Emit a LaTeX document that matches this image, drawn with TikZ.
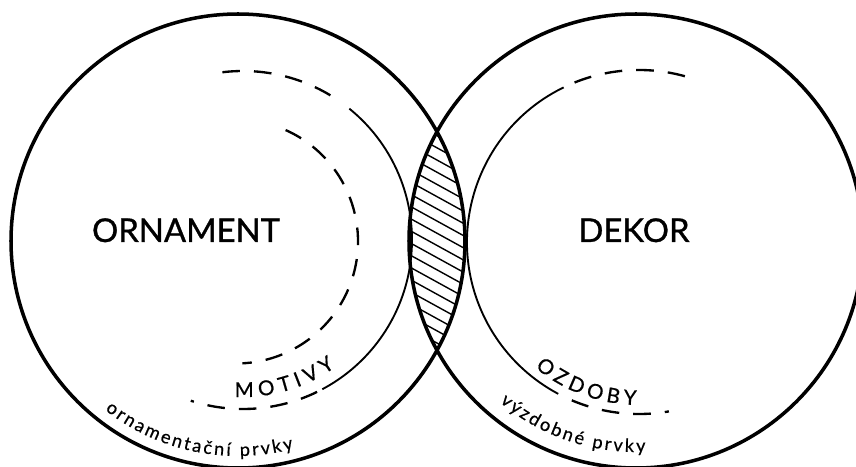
\documentclass[tikz,border=0pt]{standalone}
\usepackage{fontspec}
\setmainfont{Lato}
\newfontfamily\labelfont[FakeBold=1]{Lato}
\newfontfamily\capsfont[FakeBold=0.6, Scale=1.75]{Lato}
\newfontfamily\smallfont[FakeBold=0.6, Scale=1.55]{Lato}
\usetikzlibrary{decorations.text}

\begin{document}
\begin{tikzpicture}[
    x=0.03cm, y=0.03cm,
    ring/.style={line width=3pt},
    thinring/.style={line width=1.6pt},
    dashring/.style={line width=2pt, dash pattern=on 15pt off 12pt},
    hatch/.style={line width=1.2pt},
    areaname/.style={anchor=base, inner sep=0pt, font=\labelfont\fontsize{28}{32}\selectfont},
    curvetext/.style={decorate, decoration={text along path, text align={fit to path}}}
]
\useasboundingbox (0,0) rectangle (856,466);

\coordinate (lc) at (238,225);
\coordinate (rc) at (636,225);
\coordinate (lin) at (243,226);
\coordinate (lmid) at (236,224.5);
\coordinate (rin) at (639,224);

\draw[thinring] (lin) ++(51:169) arc (51:-62:169);
\draw[dashring] (lin) ++(97:169) arc (97:55:169);
\draw[dashring] (lin) ++(-64:169) arc (-64:-108:169);
\draw[dashring] (lmid) ++(66:122) arc (66:-87:122);

\draw[thinring] (rin) ++(116:172) arc (116:242:172);
\draw[dashring] (rin) ++(112:172) arc (112:74:172);
\draw[dashring] (rin) ++(-113:172) arc (-113:-80:172);

\begin{scope}
  \clip (lc) circle (227);
  \clip (rc) circle (227);
  \foreach \y in {100,112.2,...,390}
    \draw[hatch] (390,\y) -- (490,\y-55);
\end{scope}

\draw[ring] (lc) circle (227);
\draw[ring] (rc) circle (227);

\node[areaname] (ornament) at (186,224) {ORNAMENT};
\node[areaname] (dekor) at (634,224) {DEKOR};

\path[curvetext, decoration={text={|\capsfont|MOTIVY}}] (lin) ++(-93:157) arc (-93:-54:157);
\path[curvetext, decoration={text={|\capsfont|OZDOBY}}] (rin) ++(-129.6:163) arc (-129.6:-91:163);
\path[curvetext, decoration={text={|\smallfont|ornamentační prvky}}] (lc) ++(-128.2:215) arc (-128.2:-75:215);
\path[curvetext, decoration={text={|\smallfont|výzdobné prvky}}] (rc) ++(-130.2:211) arc (-130.2:-87.4:211);

\end{tikzpicture}
\end{document}
